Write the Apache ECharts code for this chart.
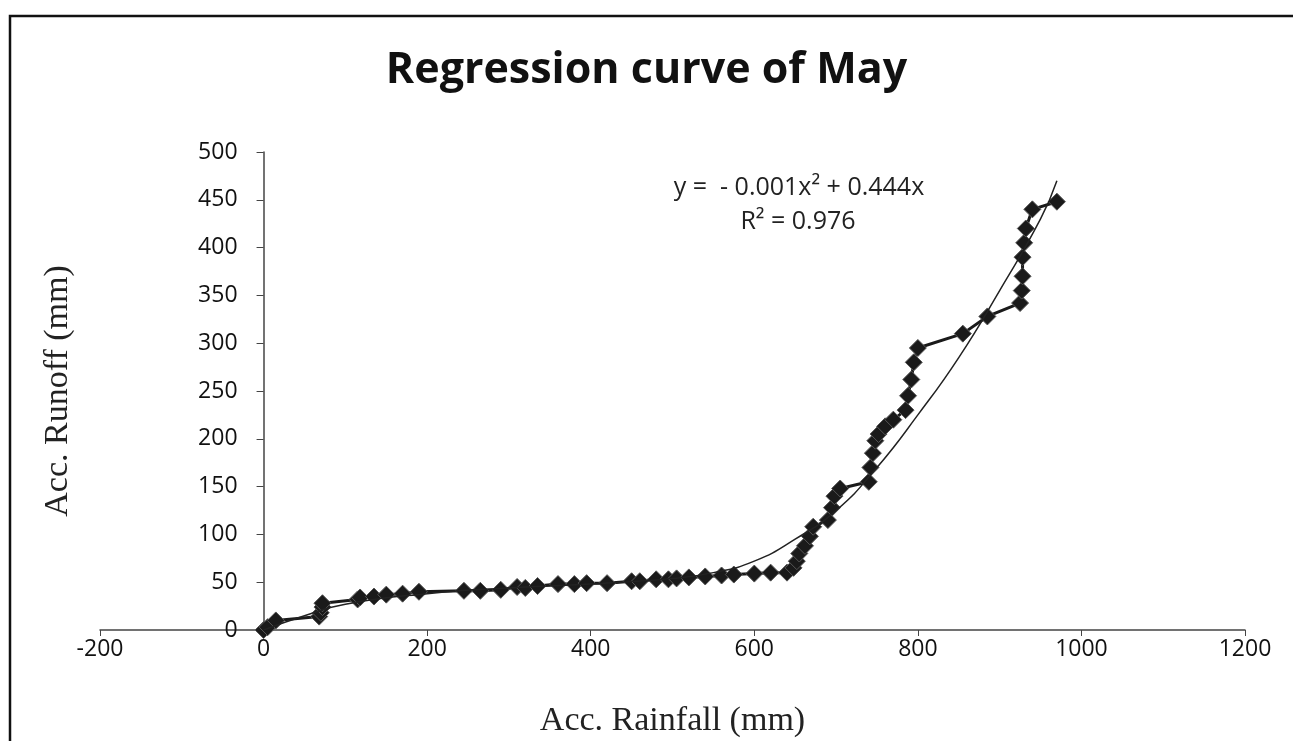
<!DOCTYPE html>
<html>
<head>
<meta charset="utf-8">
<script src="https://cdn.jsdelivr.net/npm/echarts@6/dist/echarts.min.js"></script>
<style>
html,body{margin:0;padding:0;background:#fff;}
#c{width:1293px;height:741px;}
</style>
</head>
<body>
<div id="c"></div>
<script>
// Observed data (Acc. Rainfall mm, Acc. Runoff mm)
var rainfall = [0,5,15,68,70,72,72,115,118,135,150,170,190,245,265,290,310,320,335,360,380,395,420,450,460,480,495,505,520,540,560,575,600,620,640,648,652,655,662,668,672,690,695,698,705,740,742,745,748,752,760,770,785,788,792,795,800,855,885,925,927,928,928,930,932,940,970];
var runoff   = [0,3,10,14,18,24,28,32,34,35,37,38,40,41,41,42,45,44,46,48,48,49,49,51,51,53,53,54,55,56,57,58,59,60,60,65,72,80,88,98,108,115,128,140,148,155,170,185,198,205,213,220,230,245,262,280,295,310,328,342,355,370,390,405,420,440,448];
// Trend curve
var trendX = [0,50,100,200,300,400,500,550,600,650,700,750,800,850,900,950,970];
var trendY = [0,15,27,38,44,48,54,60,72,95,125,170,225,285,355,430,470];
var xTicks = [-200,0,200,400,600,800,1000,1200];
var yTicks = [0,50,100,150,200,250,300,350,400,450,500];
var titleText = 'Regression curve of May';
var eqLine1 = 'y =  - 0.001x\u00B2 + 0.444x';
var eqLine2 = 'R\u00B2 = 0.976';

var obs = rainfall.map(function(x,i){return [x, runoff[i]];});
var trend = trendX.map(function(x,i){return [x, trendY[i]];});

var gridLeft = 100, gridRight = 48;
var plotW = 1293 - gridLeft - gridRight;
var zeroOffset = plotW * (0 - xTicks[0]) / (xTicks[xTicks.length-1] - xTicks[0]);

var chart = echarts.init(document.getElementById('c'));
chart.setOption({
  backgroundColor:'#fff',
  animation:false,
  title:{text:titleText,left:'center',top:44,
    textStyle:{fontFamily:'Open Sans',fontWeight:'bold',fontSize:43,color:'#111'}},
  graphic:[
    {type:'rect',shape:{x:10,y:16,width:1300,height:760},style:{fill:'none',stroke:'#111',lineWidth:2.5}},
    {type:'text',x:799,y:188,style:{text:eqLine1,font:'25px "Open Sans"',fill:'#222',textAlign:'center',textVerticalAlign:'middle'}},
    {type:'text',x:798,y:222,style:{text:eqLine2,font:'25px "Open Sans"',fill:'#222',textAlign:'center',textVerticalAlign:'middle'}}
  ],
  grid:{left:gridLeft,right:gridRight,top:152,bottom:111,containLabel:false,outerBoundsMode:'none'},
  xAxis:{type:'value',min:-200,max:1200,interval:200,
    name:'Acc. Rainfall (mm)',nameLocation:'middle',nameGap:74,
    nameTextStyle:{fontFamily:'Liberation Serif',fontSize:34,color:'#222'},
    axisLine:{onZero:true,lineStyle:{color:'#444',width:1.5}},
    axisTick:{show:true,inside:false,length:6,lineStyle:{color:'#444'}},
    axisLabel:{fontFamily:'Open Sans',fontSize:23,color:'#111',margin:8,
      formatter:function(v){return xTicks.indexOf(v)>=0?String(v):'';}},
    splitLine:{show:false}},
  yAxis:{type:'value',min:0,max:500,interval:50,offset:-zeroOffset,
    name:'Acc. Runoff (mm)',nameLocation:'middle',nameGap:188,nameRotate:90,
    nameTextStyle:{fontFamily:'Liberation Serif',fontSize:34,color:'#222'},
    axisLine:{show:true,onZero:false,lineStyle:{color:'#444',width:1.5}},
    axisTick:{show:true,length:7,lineStyle:{color:'#444'}},
    axisLabel:{fontFamily:'Open Sans',fontSize:23,color:'#111',margin:26,
      formatter:function(v){return yTicks.indexOf(v)>=0?String(v):'';}},
    splitLine:{show:false}},
  series:[
    {type:'line',data:obs,symbol:'diamond',symbolSize:17,showSymbol:true,
      lineStyle:{color:'#1a1a1a',width:3},
      itemStyle:{color:'#1a1a1a',borderColor:'#555',borderWidth:1},z:2},
    {type:'line',data:trend,smooth:true,symbol:'none',
      lineStyle:{color:'#222',width:1.5},z:3}
  ]
});
</script>
</body>
</html>
